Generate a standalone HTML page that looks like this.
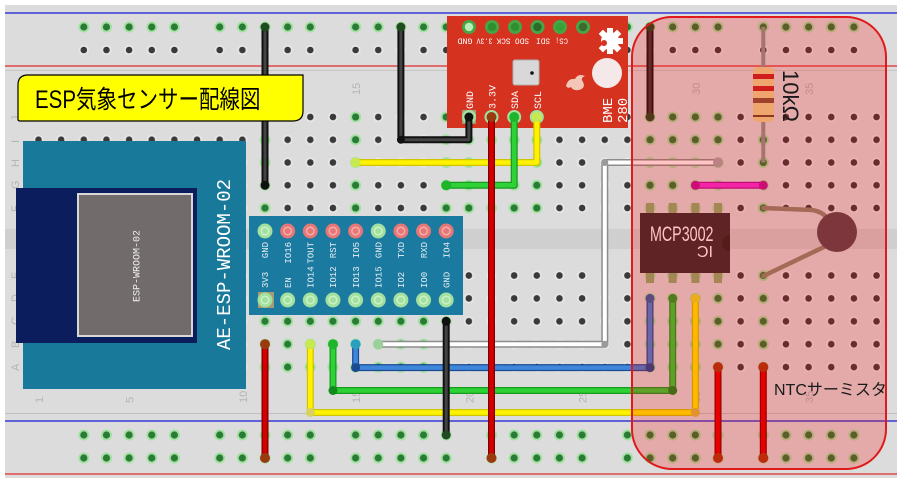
<!DOCTYPE html>
<html><head><meta charset="utf-8"><style>
html,body{margin:0;padding:0;background:#fff;}
svg{display:block}
</style></head><body>
<svg width="897" height="482" viewBox="0 0 897 482" xmlns="http://www.w3.org/2000/svg">
<defs>
<pattern id="pgT" x="27.175" y="105.625" width="22.65" height="22.75" patternUnits="userSpaceOnUse"><circle cx="11.325" cy="11.375" r="5" fill="#e8e8e8"/><circle cx="11.325" cy="11.375" r="3.3" fill="#3a3a3a"/></pattern>
<pattern id="pnT" x="27.175" y="105.625" width="22.65" height="22.75" patternUnits="userSpaceOnUse"><circle cx="11.325" cy="11.375" r="5.5" fill="#a2e1a0"/><circle cx="11.325" cy="11.375" r="3.6" fill="#2a7b36"/></pattern>
<pattern id="pgB" x="27.175" y="264.05" width="22.65" height="22.9" patternUnits="userSpaceOnUse"><circle cx="11.325" cy="11.45" r="5" fill="#e8e8e8"/><circle cx="11.325" cy="11.45" r="3.3" fill="#3a3a3a"/></pattern>
<pattern id="pnB" x="27.175" y="264.05" width="22.65" height="22.9" patternUnits="userSpaceOnUse"><circle cx="11.325" cy="11.45" r="5.5" fill="#a2e1a0"/><circle cx="11.325" cy="11.45" r="3.6" fill="#2a7b36"/></pattern>
<pattern id="rg" x="72.475" y="15.5" width="135.9" height="23" patternUnits="userSpaceOnUse">
<g fill="#e8e8e8"><circle cx="11.325" cy="11.5" r="5"/><circle cx="33.975" cy="11.5" r="5"/><circle cx="56.625" cy="11.5" r="5"/><circle cx="79.275" cy="11.5" r="5"/><circle cx="101.925" cy="11.5" r="5"/></g>
<g fill="#3a3a3a"><circle cx="11.325" cy="11.5" r="3.3"/><circle cx="33.975" cy="11.5" r="3.3"/><circle cx="56.625" cy="11.5" r="3.3"/><circle cx="79.275" cy="11.5" r="3.3"/><circle cx="101.925" cy="11.5" r="3.3"/></g>
</pattern>
<pattern id="rn" x="72.475" y="15.5" width="135.9" height="23" patternUnits="userSpaceOnUse">
<g fill="#a2e1a0"><circle cx="11.325" cy="11.5" r="5.5"/><circle cx="33.975" cy="11.5" r="5.5"/><circle cx="56.625" cy="11.5" r="5.5"/><circle cx="79.275" cy="11.5" r="5.5"/><circle cx="101.925" cy="11.5" r="5.5"/></g>
<g fill="#2a7b36"><circle cx="11.325" cy="11.5" r="3.6"/><circle cx="33.975" cy="11.5" r="3.6"/><circle cx="56.625" cy="11.5" r="3.6"/><circle cx="79.275" cy="11.5" r="3.6"/><circle cx="101.925" cy="11.5" r="3.6"/></g>
</pattern>
<pattern id="rnB" x="72.475" y="423.5" width="135.9" height="23" patternUnits="userSpaceOnUse">
<g fill="#a2e1a0"><circle cx="11.325" cy="11.5" r="5.5"/><circle cx="33.975" cy="11.5" r="5.5"/><circle cx="56.625" cy="11.5" r="5.5"/><circle cx="79.275" cy="11.5" r="5.5"/><circle cx="101.925" cy="11.5" r="5.5"/></g>
<g fill="#2a7b36"><circle cx="11.325" cy="11.5" r="3.6"/><circle cx="33.975" cy="11.5" r="3.6"/><circle cx="56.625" cy="11.5" r="3.6"/><circle cx="79.275" cy="11.5" r="3.6"/><circle cx="101.925" cy="11.5" r="3.6"/></g>
</pattern>
</defs>

<!-- breadboard -->
<rect x="0" y="0" width="897" height="482" fill="#fff"/>
<rect x="5" y="5" width="892" height="473" fill="#dcdcdc"/>
<rect x="5" y="229" width="892" height="20" fill="#cfcfcf"/>
<line x1="5" y1="13" x2="897" y2="13" stroke="#3a3ad6" stroke-width="1.5"/>
<line x1="5" y1="66" x2="897" y2="66" stroke="#e04848" stroke-width="1.5"/>
<line x1="5" y1="70.5" x2="897" y2="70.5" stroke="#c6c6c6" stroke-width="1"/>
<line x1="5" y1="413.5" x2="897" y2="413.5" stroke="#c0c0c0" stroke-width="1"/>
<line x1="5" y1="421" x2="897" y2="421" stroke="#3a3ad6" stroke-width="1.5"/>
<line x1="5" y1="474" x2="897" y2="474" stroke="#e04848" stroke-width="1.5"/>

<!-- holes -->
<rect x="27.175" y="105.625" width="860.7" height="113.75" fill="url(#pgT)"/>
<rect x="27.175" y="264.05" width="860.7" height="114.5" fill="url(#pgB)"/>
<rect x="253.675" y="105.625" width="22.65" height="113.75" fill="url(#pnT)"/>
<rect x="344.275" y="105.625" width="22.65" height="113.75" fill="url(#pnT)"/>
<rect x="434.875" y="105.625" width="113.25" height="113.75" fill="url(#pnT)"/>
<rect x="638.725" y="105.625" width="90.6" height="113.75" fill="url(#pnT)"/>
<rect x="751.975" y="105.625" width="22.65" height="113.75" fill="url(#pnT)"/>
<rect x="253.675" y="264.05" width="203.85" height="114.5" fill="url(#pnB)"/>
<rect x="638.725" y="264.05" width="90.6" height="114.5" fill="url(#pnB)"/>
<rect x="751.975" y="264.05" width="22.65" height="114.5" fill="url(#pnB)"/>
<rect x="72.475" y="15.5" width="815.4" height="23" fill="url(#rn)"/>
<rect x="72.475" y="38.5" width="815.4" height="23" fill="url(#rg)"/>
<rect x="72.475" y="423.5" width="815.4" height="46" fill="url(#rnB)"/>

<!-- column / row labels -->
<g font-family="Liberation Sans, sans-serif" font-size="11" fill="#b4b4b4">
<text transform="translate(43,95) rotate(-90)">1</text>
<text transform="translate(133.6,95) rotate(-90)">5</text>
<text transform="translate(246.9,95) rotate(-90)">10</text>
<text transform="translate(360.1,95) rotate(-90)">15</text>
<text transform="translate(473.4,95) rotate(-90)">20</text>
<text transform="translate(586.6,95) rotate(-90)">25</text>
<text transform="translate(699.9,95) rotate(-90)">30</text>
<text transform="translate(813.1,95) rotate(-90)">35</text>
<text transform="translate(43,403) rotate(-90)">1</text>
<text transform="translate(133.6,403) rotate(-90)">5</text>
<text transform="translate(246.9,403) rotate(-90)">10</text>
<text transform="translate(360.1,403) rotate(-90)">15</text>
<text transform="translate(473.4,403) rotate(-90)">20</text>
<text transform="translate(586.6,403) rotate(-90)">25</text>
<text transform="translate(699.9,403) rotate(-90)">30</text>
<text transform="translate(813.1,403) rotate(-90)">35</text>
<text transform="translate(19,121) rotate(-90)">J</text>
<text transform="translate(19,143) rotate(-90)">I</text>
<text transform="translate(19,167) rotate(-90)">H</text>
<text transform="translate(19,189) rotate(-90)">G</text>
<text transform="translate(19,212) rotate(-90)">F</text>
<text transform="translate(19,279) rotate(-90)">E</text>
<text transform="translate(19,302) rotate(-90)">D</text>
<text transform="translate(19,325) rotate(-90)">C</text>
<text transform="translate(19,348) rotate(-90)">B</text>
<text transform="translate(19,371) rotate(-90)">A</text>
</g>

<!-- ESP module -->
<rect x="23" y="141" width="223" height="248" fill="#18799a"/>
<rect x="16" y="188" width="181" height="155" fill="#0b1d5c"/>
<rect x="78" y="194" width="114" height="142" fill="#716b6b" stroke="#d8d8d8" stroke-width="2"/>
<text transform="translate(230,350) rotate(-90)" font-family="Liberation Mono, monospace" font-size="19" fill="#fff">AE-ESP-WROOM-02</text>
<text transform="translate(139.5,302) rotate(-90)" font-family="Liberation Mono, monospace" font-size="10" fill="#f0f0f0">ESP-WROOM-02</text>

<!-- breakout -->
<rect x="249" y="216" width="214" height="99" fill="#1b7a9f"/>
<rect x="258" y="292" width="16" height="16" fill="#a89a72"/>
<g>
<circle cx="265" cy="231" r="7.5" fill="#a2e0a0"/><circle cx="265" cy="231" r="3.8" fill="none" stroke="#caf2c6" stroke-width="1.5"/>
<g fill="#e57777"><circle cx="287.65" cy="231" r="7.5"/><circle cx="310.3" cy="231" r="7.5"/><circle cx="332.95" cy="231" r="7.5"/><circle cx="355.6" cy="231" r="7.5"/><circle cx="400.9" cy="231" r="7.5"/><circle cx="423.55" cy="231" r="7.5"/><circle cx="446.2" cy="231" r="7.5"/></g>
<circle cx="378.25" cy="231" r="7.5" fill="#a2e0a0"/><circle cx="378.25" cy="231" r="3.8" fill="none" stroke="#caf2c6" stroke-width="1.5"/>
<g fill="none" stroke="#f6aaaa" stroke-width="1.5"><circle cx="287.65" cy="231" r="3.8"/><circle cx="310.3" cy="231" r="3.8"/><circle cx="332.95" cy="231" r="3.8"/><circle cx="355.6" cy="231" r="3.8"/><circle cx="400.9" cy="231" r="3.8"/><circle cx="423.55" cy="231" r="3.8"/><circle cx="446.2" cy="231" r="3.8"/></g>
<g fill="#a2e0a0"><circle cx="265" cy="300" r="7.5"/><circle cx="287.65" cy="300" r="7.5"/><circle cx="310.3" cy="300" r="7.5"/><circle cx="332.95" cy="300" r="7.5"/><circle cx="355.6" cy="300" r="7.5"/><circle cx="378.25" cy="300" r="7.5"/><circle cx="400.9" cy="300" r="7.5"/><circle cx="423.55" cy="300" r="7.5"/><circle cx="446.2" cy="300" r="7.5"/></g>
<g fill="none" stroke="#caf2c6" stroke-width="1.5"><circle cx="265" cy="300" r="3.8"/><circle cx="287.65" cy="300" r="3.8"/><circle cx="310.3" cy="300" r="3.8"/><circle cx="332.95" cy="300" r="3.8"/><circle cx="355.6" cy="300" r="3.8"/><circle cx="378.25" cy="300" r="3.8"/><circle cx="400.9" cy="300" r="3.8"/><circle cx="423.55" cy="300" r="3.8"/><circle cx="446.2" cy="300" r="3.8"/></g>
</g>
<g font-family="Liberation Mono, monospace" font-size="9" fill="#e6eef4">
<g text-anchor="end">
<text transform="translate(268.2,242) rotate(-90)">GND</text>
<text transform="translate(290.9,242) rotate(-90)">IO16</text>
<text transform="translate(313.5,242) rotate(-90)">TOUT</text>
<text transform="translate(336.2,242) rotate(-90)">RST</text>
<text transform="translate(358.8,242) rotate(-90)">IO5</text>
<text transform="translate(381.5,242) rotate(-90)">GND</text>
<text transform="translate(404.1,242) rotate(-90)">TXD</text>
<text transform="translate(426.8,242) rotate(-90)">RXD</text>
<text transform="translate(449.4,242) rotate(-90)">IO4</text>
</g>
<text transform="translate(268.2,288) rotate(-90)">3V3</text>
<text transform="translate(290.9,288) rotate(-90)">EN</text>
<text transform="translate(313.5,288) rotate(-90)">IO14</text>
<text transform="translate(336.2,288) rotate(-90)">IO12</text>
<text transform="translate(358.8,288) rotate(-90)">IO13</text>
<text transform="translate(381.5,288) rotate(-90)">IO15</text>
<text transform="translate(404.1,288) rotate(-90)">IO2</text>
<text transform="translate(426.8,288) rotate(-90)">IO0</text>
<text transform="translate(449.4,288) rotate(-90)">GND</text>
</g>

<!-- BME280 -->
<rect x="447" y="16" width="181" height="112" fill="#d5321f"/>
<g fill="#46a646"><circle cx="469" cy="27" r="7"/><circle cx="492" cy="27" r="7"/><circle cx="515" cy="27" r="7"/><circle cx="537.5" cy="27" r="7"/><circle cx="560" cy="27" r="7"/><circle cx="583" cy="27" r="7"/></g>
<circle cx="469" cy="27" r="4.2" fill="#b8ecb8"/><circle cx="492" cy="27" r="4.2" fill="#2f8f2f"/><circle cx="515" cy="27" r="4.2" fill="#2f8f2f"/><circle cx="537.5" cy="27" r="4.2" fill="#2a6a2a"/><circle cx="560" cy="27" r="4.2" fill="#37a037"/><circle cx="583" cy="27" r="4.2" fill="#3d6a30"/>
<g font-family="Liberation Mono, monospace" font-size="8" fill="#fff" text-anchor="middle">
<text transform="translate(465,38.5) rotate(180)" textLength="15" lengthAdjust="spacingAndGlyphs">GND</text>
<text transform="translate(484.5,38.5) rotate(180)" textLength="16" lengthAdjust="spacingAndGlyphs">3.3V</text>
<text transform="translate(503.5,38.5) rotate(180)" textLength="14" lengthAdjust="spacingAndGlyphs">SCK</text>
<text transform="translate(522,38.5) rotate(180)" textLength="14" lengthAdjust="spacingAndGlyphs">SDO</text>
<text transform="translate(543,38.5) rotate(180)" textLength="14" lengthAdjust="spacingAndGlyphs">SDI</text>
<text transform="translate(561.5,38.5) rotate(180)" textLength="13" lengthAdjust="spacingAndGlyphs">CS¡</text>
</g>
<g transform="translate(610,41)" fill="#fff">
<circle r="9"/>
<rect x="-3" y="-13" width="6" height="6"/>
<rect x="-3" y="-13" width="6" height="6" transform="rotate(45)"/>
<rect x="-3" y="-13" width="6" height="6" transform="rotate(90)"/>
<rect x="-3" y="-13" width="6" height="6" transform="rotate(135)"/>
<rect x="-3" y="-13" width="6" height="6" transform="rotate(180)"/>
<rect x="-3" y="-13" width="6" height="6" transform="rotate(225)"/>
<rect x="-3" y="-13" width="6" height="6" transform="rotate(315)"/>
<circle cx="-6" cy="2" r="3" fill="#d5321f"/>
</g>
<rect x="513" y="60" width="26" height="25" rx="2" fill="#d8d8d8" stroke="#b0b0b0" stroke-width="1"/>
<circle cx="532" cy="73" r="1.8" fill="#111"/>
<circle cx="607" cy="73" r="15" fill="#f5e8e8"/>
<path d="M566,86 q2,-8 9,-7 q3,-6 10,-3 q-5,2 -2,6 q3,6 -4,8 q-6,1 -8,-3 q-3,2 -5,-1z" fill="#f4c6b8"/>
<rect x="462" y="110" width="14" height="14" fill="#a89a72"/>
<g fill="#a2e0a0"><circle cx="469" cy="117" r="7"/><circle cx="491.5" cy="117" r="7"/><circle cx="514.2" cy="117" r="7"/><circle cx="536.8" cy="117" r="7"/></g>
<g font-family="Liberation Mono, monospace" font-size="10" fill="#fff">
<text transform="translate(473,109) rotate(-90)">GND</text>
<text transform="translate(495.5,109) rotate(-90)">3.3V</text>
<text transform="translate(518.2,109) rotate(-90)">SDA</text>
<text transform="translate(540.8,109) rotate(-90)">SCL</text>
</g>
<g font-family="Liberation Mono, monospace" font-size="14" fill="#fff">
<text transform="translate(612,123) rotate(-90)">BME</text>
<text transform="translate(627,123) rotate(-90)">280</text>
</g>

<!-- MCP3002 chip -->
<g fill="#8ab070">
<rect x="646" y="203" width="8" height="12"/><rect x="668.7" y="203" width="8" height="12"/><rect x="691.4" y="203" width="8" height="12"/><rect x="714" y="203" width="8" height="12"/>
<rect x="646" y="271" width="8" height="12"/><rect x="668.7" y="271" width="8" height="12"/><rect x="691.4" y="271" width="8" height="12"/><rect x="714" y="271" width="8" height="12"/>
</g>
<rect x="640" y="213" width="90" height="60" fill="#2f2d31"/>
<path d="M730,235 a8,8 0 0 0 0,16 z" fill="#222"/>
<text transform="translate(650,241) scale(0.68,1)" font-family="Liberation Sans, sans-serif" font-size="21" fill="#fff">MCP3002</text>
<text transform="translate(713,257) scale(-1,1)" font-family="Liberation Sans, sans-serif" font-size="16" fill="#fff">IC</text>

<!-- resistor -->
<line x1="763.3" y1="27" x2="763.3" y2="162.5" stroke="#8c9890" stroke-width="4"/>
<rect x="753" y="67" width="21" height="55" rx="5" fill="#ebd98f"/>
<rect x="753" y="74" width="21" height="5" fill="#c02828"/>
<rect x="753" y="86" width="21" height="5" fill="#c02828"/>
<rect x="753" y="98" width="21" height="5" fill="#84553c"/>
<rect x="753" y="115" width="21" height="2" fill="#6a4a2a"/>

<!-- thermistor -->
<path d="M763.3,208 L812,210 Q826,212 830,224" fill="none" stroke="#8a8a70" stroke-width="4.5" stroke-linecap="round"/>
<path d="M763.3,276 L826,246" fill="none" stroke="#8a8a70" stroke-width="4.5" stroke-linecap="round"/>
<circle cx="837" cy="232" r="20" fill="#56474e"/>

<!-- wires -->
<g fill="none" stroke-linecap="round" stroke-linejoin="round">
<path d="M718,162.5 H604.8 V344.2 H378.3" stroke="#8c8c8c" stroke-width="7"/>
<path d="M718,162.5 H604.8 V344.2 H378.3" stroke="#fff" stroke-width="4"/>
<path d="M355.6,162.5 H536.8 V117" stroke="#cfc600" stroke-width="7"/>
<path d="M355.6,162.5 H536.8 V117" stroke="#fff200" stroke-width="4.5"/>
<path d="M446.2,185.3 H514.2 V117" stroke="#179a20" stroke-width="7"/>
<path d="M446.2,185.3 H514.2 V117" stroke="#2ed236" stroke-width="4.5"/>
<path d="M695.4,185.3 H763.3" stroke="#b0109c" stroke-width="7"/>
<path d="M695.4,185.3 H763.3" stroke="#f030d8" stroke-width="4.5"/>
<path d="M310.3,344.2 V412.5 H695.4 V298.4" stroke="#cfc600" stroke-width="7"/>
<path d="M310.3,344.2 V412.5 H695.4 V298.4" stroke="#fff200" stroke-width="4.5"/>
<path d="M333,344.2 V390.5 H672.7 V298.4" stroke="#179a20" stroke-width="7"/>
<path d="M333,344.2 V390.5 H672.7 V298.4" stroke="#2ed236" stroke-width="4.5"/>
<path d="M355.6,344.2 V367.6 H650 V298.4" stroke="#1a4a90" stroke-width="7"/>
<path d="M355.6,344.2 V367.6 H650 V298.4" stroke="#3d86dc" stroke-width="4.5"/>
<path d="M265,27 V185.3" stroke="#111" stroke-width="7"/>
<path d="M265,27 V185.3" stroke="#444" stroke-width="3"/>
<path d="M400.9,27 V139.8 H468.9 V117" stroke="#111" stroke-width="7"/>
<path d="M400.9,27 V139.8 H468.9 V117" stroke="#444" stroke-width="3"/>
<path d="M650,27 V117" stroke="#111" stroke-width="7"/>
<path d="M650,27 V117" stroke="#3a3a3a" stroke-width="3"/>
<path d="M446.2,321.3 V435" stroke="#111" stroke-width="7"/>
<path d="M446.2,321.3 V435" stroke="#444" stroke-width="3"/>
<path d="M491.5,117 V458" stroke="#7e0000" stroke-width="7"/>
<path d="M491.5,117 V458" stroke="#d40000" stroke-width="4.5"/>
<path d="M265,344.2 V458" stroke="#7e0000" stroke-width="7"/>
<path d="M265,344.2 V458" stroke="#d40000" stroke-width="4.5"/>
<path d="M718,367.1 V458" stroke="#7e0000" stroke-width="7"/>
<path d="M718,367.1 V458" stroke="#e00000" stroke-width="4.5"/>
<path d="M763.3,367.1 V458" stroke="#7e0000" stroke-width="7"/>
<path d="M763.3,367.1 V458" stroke="#e00000" stroke-width="4.5"/>
</g>
<g>
<circle cx="265" cy="185.3" r="4.5" fill="#111"/><circle cx="265" cy="27" r="4.5" fill="#1f4a22"/>
<circle cx="400.9" cy="27" r="4.5" fill="#1f4a22"/><circle cx="400.9" cy="139.8" r="4" fill="#111"/>
<circle cx="355.6" cy="162.5" r="5" fill="#c8e850"/><circle cx="536.8" cy="117" r="5" fill="#c8e850"/>
<circle cx="446.2" cy="185.3" r="5" fill="#1fb52a"/><circle cx="514.2" cy="117" r="5" fill="#1fb52a"/>
<circle cx="718" cy="162.5" r="5" fill="#a8a8a8"/><circle cx="378.3" cy="344.2" r="5" fill="#9ccf9c"/>
<circle cx="604.8" cy="162.5" r="3.5" fill="#9a9a9a"/><circle cx="604.8" cy="344.2" r="3.5" fill="#9a9a9a"/>
<circle cx="310.3" cy="344.2" r="5" fill="#c8e850"/><circle cx="310.3" cy="412.5" r="4.5" fill="#d8d060"/>
<circle cx="333" cy="344.2" r="5" fill="#1fb52a"/><circle cx="333" cy="390.5" r="4.5" fill="#138a1c"/>
<circle cx="355.6" cy="344.2" r="5" fill="#2aa0c0"/><circle cx="355.6" cy="367.6" r="4.5" fill="#1a4a90"/>
<circle cx="650" cy="367.6" r="4.5" fill="#1a4a90"/><circle cx="672.7" cy="390.5" r="4.5" fill="#138a1c"/><circle cx="695.4" cy="412.5" r="4.5" fill="#d8c040"/>
<circle cx="650" cy="298.4" r="4.5" fill="#2f5fa8"/><circle cx="672.7" cy="298.4" r="4.5" fill="#1fa02a"/><circle cx="695.4" cy="298.4" r="4.5" fill="#e8e020"/>
<circle cx="265" cy="344.2" r="5" fill="#9a3a10"/><circle cx="265" cy="458" r="5" fill="#9a3a10"/>
<circle cx="491.5" cy="117" r="5" fill="#9a3a10"/><circle cx="491.5" cy="458" r="5" fill="#9a3a10"/>
<circle cx="718" cy="367.1" r="5" fill="#a83a10"/><circle cx="718" cy="458" r="5" fill="#a83a10"/>
<circle cx="763.3" cy="367.1" r="5" fill="#a83a10"/><circle cx="763.3" cy="458" r="5" fill="#a83a10"/>
<circle cx="446.2" cy="321.3" r="4.5" fill="#111"/><circle cx="446.2" cy="435" r="4.5" fill="#1f4a22"/>
<circle cx="468.9" cy="117" r="4.5" fill="#111"/>
<circle cx="650" cy="27" r="4.5" fill="#1f4a22"/><circle cx="650" cy="117" r="4.5" fill="#1f4a22"/>
<circle cx="695.4" cy="185.3" r="4.5" fill="#c0109c"/><circle cx="763.3" cy="185.3" r="4.5" fill="#c0109c"/>
</g>

<!-- highlight overlay -->
<rect x="632" y="17" width="254" height="452" rx="40" ry="40" fill="rgba(255,0,0,0.23)" stroke="#e01a1a" stroke-width="2"/>

<!-- annotations on top -->
<text transform="translate(783,70) rotate(90)" font-family="Liberation Sans, sans-serif" font-size="22" fill="#1a1a1a">10kΩ</text>
<text x="774" y="395" font-family="Liberation Sans, 'Noto Sans CJK JP', sans-serif" font-size="16" fill="#1a1a1a">NTCサーミスタ</text>

<!-- title label -->
<path d="M28,75 H303 V111 Q303,121 293,121 H20 Q18,121 18,119 V85 Q18,75 28,75 Z" fill="#ffff00" stroke="#000" stroke-width="1.2"/>
<text transform="translate(35,108) scale(0.82,1)" font-family="Liberation Sans, 'Noto Sans CJK JP', sans-serif" font-size="25" fill="#000">ESP気象センサー配線図</text>
</svg>
</body></html>
